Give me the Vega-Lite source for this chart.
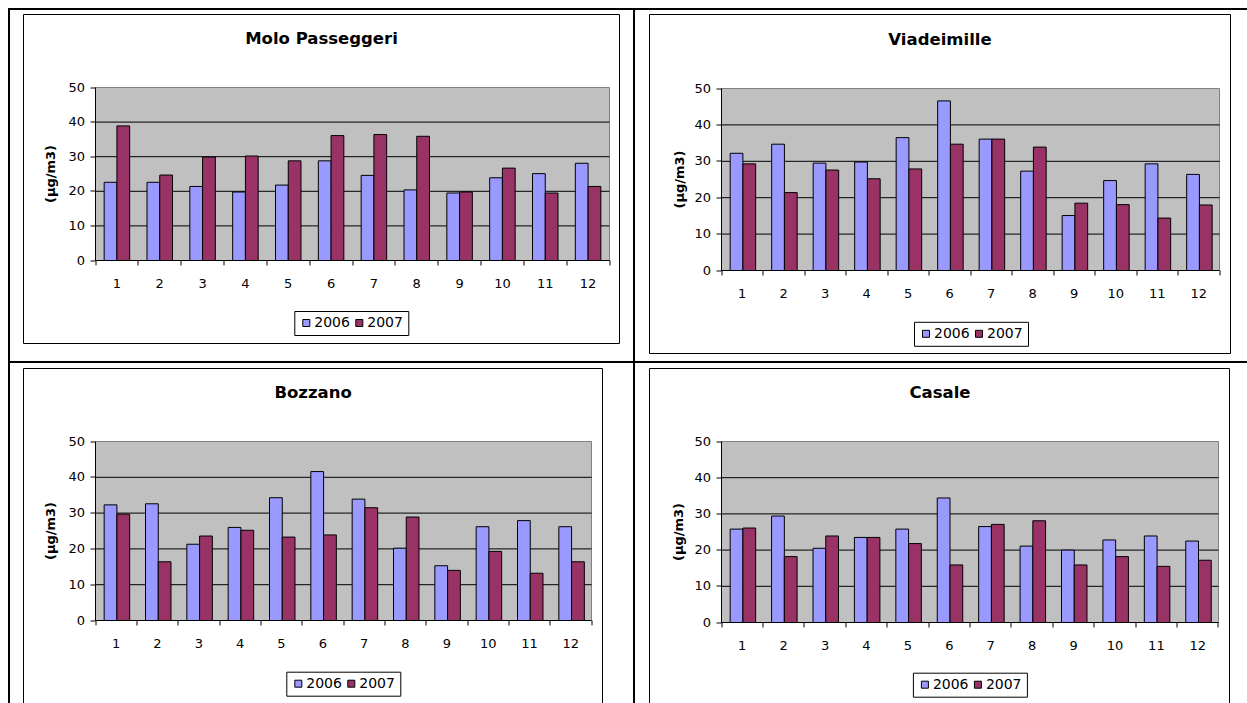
{
  "$schema": "https://vega.github.io/schema/vega-lite/v6.json",
  "background": "white",
  "padding": {"left": 8, "top": 8, "right": -2, "bottom": -2},
  "data": {"values": [
    {"station": "Molo Passeggeri", "month": 1, "year": 2006, "value": 22.6},
    {"station": "Molo Passeggeri", "month": 2, "year": 2006, "value": 22.6},
    {"station": "Molo Passeggeri", "month": 3, "year": 2006, "value": 21.4},
    {"station": "Molo Passeggeri", "month": 4, "year": 2006, "value": 19.8},
    {"station": "Molo Passeggeri", "month": 5, "year": 2006, "value": 21.8},
    {"station": "Molo Passeggeri", "month": 6, "year": 2006, "value": 28.8},
    {"station": "Molo Passeggeri", "month": 7, "year": 2006, "value": 24.6},
    {"station": "Molo Passeggeri", "month": 8, "year": 2006, "value": 20.4},
    {"station": "Molo Passeggeri", "month": 9, "year": 2006, "value": 19.5},
    {"station": "Molo Passeggeri", "month": 10, "year": 2006, "value": 23.9},
    {"station": "Molo Passeggeri", "month": 11, "year": 2006, "value": 25.1},
    {"station": "Molo Passeggeri", "month": 12, "year": 2006, "value": 28.1},
    {"station": "Molo Passeggeri", "month": 1, "year": 2007, "value": 38.9},
    {"station": "Molo Passeggeri", "month": 2, "year": 2007, "value": 24.7},
    {"station": "Molo Passeggeri", "month": 3, "year": 2007, "value": 29.9},
    {"station": "Molo Passeggeri", "month": 4, "year": 2007, "value": 30.2},
    {"station": "Molo Passeggeri", "month": 5, "year": 2007, "value": 28.8},
    {"station": "Molo Passeggeri", "month": 6, "year": 2007, "value": 36.1},
    {"station": "Molo Passeggeri", "month": 7, "year": 2007, "value": 36.4},
    {"station": "Molo Passeggeri", "month": 8, "year": 2007, "value": 35.9},
    {"station": "Molo Passeggeri", "month": 9, "year": 2007, "value": 19.8},
    {"station": "Molo Passeggeri", "month": 10, "year": 2007, "value": 26.7},
    {"station": "Molo Passeggeri", "month": 11, "year": 2007, "value": 19.5},
    {"station": "Molo Passeggeri", "month": 12, "year": 2007, "value": 21.4},
    {"station": "Viadeimille", "month": 1, "year": 2006, "value": 32.2},
    {"station": "Viadeimille", "month": 2, "year": 2006, "value": 34.7},
    {"station": "Viadeimille", "month": 3, "year": 2006, "value": 29.5},
    {"station": "Viadeimille", "month": 4, "year": 2006, "value": 29.8},
    {"station": "Viadeimille", "month": 5, "year": 2006, "value": 36.5},
    {"station": "Viadeimille", "month": 6, "year": 2006, "value": 46.6},
    {"station": "Viadeimille", "month": 7, "year": 2006, "value": 36.1},
    {"station": "Viadeimille", "month": 8, "year": 2006, "value": 27.3},
    {"station": "Viadeimille", "month": 9, "year": 2006, "value": 15.1},
    {"station": "Viadeimille", "month": 10, "year": 2006, "value": 24.7},
    {"station": "Viadeimille", "month": 11, "year": 2006, "value": 29.3},
    {"station": "Viadeimille", "month": 12, "year": 2006, "value": 26.4},
    {"station": "Viadeimille", "month": 1, "year": 2007, "value": 29.3},
    {"station": "Viadeimille", "month": 2, "year": 2007, "value": 21.4},
    {"station": "Viadeimille", "month": 3, "year": 2007, "value": 27.6},
    {"station": "Viadeimille", "month": 4, "year": 2007, "value": 25.2},
    {"station": "Viadeimille", "month": 5, "year": 2007, "value": 27.9},
    {"station": "Viadeimille", "month": 6, "year": 2007, "value": 34.7},
    {"station": "Viadeimille", "month": 7, "year": 2007, "value": 36.1},
    {"station": "Viadeimille", "month": 8, "year": 2007, "value": 33.9},
    {"station": "Viadeimille", "month": 9, "year": 2007, "value": 18.5},
    {"station": "Viadeimille", "month": 10, "year": 2007, "value": 18.1},
    {"station": "Viadeimille", "month": 11, "year": 2007, "value": 14.4},
    {"station": "Viadeimille", "month": 12, "year": 2007, "value": 18.0},
    {"station": "Bozzano", "month": 1, "year": 2006, "value": 32.3},
    {"station": "Bozzano", "month": 2, "year": 2006, "value": 32.6},
    {"station": "Bozzano", "month": 3, "year": 2006, "value": 21.3},
    {"station": "Bozzano", "month": 4, "year": 2006, "value": 26.0},
    {"station": "Bozzano", "month": 5, "year": 2006, "value": 34.3},
    {"station": "Bozzano", "month": 6, "year": 2006, "value": 41.6},
    {"station": "Bozzano", "month": 7, "year": 2006, "value": 33.9},
    {"station": "Bozzano", "month": 8, "year": 2006, "value": 20.2},
    {"station": "Bozzano", "month": 9, "year": 2006, "value": 15.3},
    {"station": "Bozzano", "month": 10, "year": 2006, "value": 26.2},
    {"station": "Bozzano", "month": 11, "year": 2006, "value": 27.9},
    {"station": "Bozzano", "month": 12, "year": 2006, "value": 26.2},
    {"station": "Bozzano", "month": 1, "year": 2007, "value": 29.7},
    {"station": "Bozzano", "month": 2, "year": 2007, "value": 16.4},
    {"station": "Bozzano", "month": 3, "year": 2007, "value": 23.6},
    {"station": "Bozzano", "month": 4, "year": 2007, "value": 25.2},
    {"station": "Bozzano", "month": 5, "year": 2007, "value": 23.3},
    {"station": "Bozzano", "month": 6, "year": 2007, "value": 23.9},
    {"station": "Bozzano", "month": 7, "year": 2007, "value": 31.5},
    {"station": "Bozzano", "month": 8, "year": 2007, "value": 28.9},
    {"station": "Bozzano", "month": 9, "year": 2007, "value": 14.0},
    {"station": "Bozzano", "month": 10, "year": 2007, "value": 19.3},
    {"station": "Bozzano", "month": 11, "year": 2007, "value": 13.2},
    {"station": "Bozzano", "month": 12, "year": 2007, "value": 16.4},
    {"station": "Casale", "month": 1, "year": 2006, "value": 25.8},
    {"station": "Casale", "month": 2, "year": 2006, "value": 29.4},
    {"station": "Casale", "month": 3, "year": 2006, "value": 20.5},
    {"station": "Casale", "month": 4, "year": 2006, "value": 23.5},
    {"station": "Casale", "month": 5, "year": 2006, "value": 25.8},
    {"station": "Casale", "month": 6, "year": 2006, "value": 34.4},
    {"station": "Casale", "month": 7, "year": 2006, "value": 26.5},
    {"station": "Casale", "month": 8, "year": 2006, "value": 21.1},
    {"station": "Casale", "month": 9, "year": 2006, "value": 20.0},
    {"station": "Casale", "month": 10, "year": 2006, "value": 22.8},
    {"station": "Casale", "month": 11, "year": 2006, "value": 23.9},
    {"station": "Casale", "month": 12, "year": 2006, "value": 22.5},
    {"station": "Casale", "month": 1, "year": 2007, "value": 26.1},
    {"station": "Casale", "month": 2, "year": 2007, "value": 18.2},
    {"station": "Casale", "month": 3, "year": 2007, "value": 23.9},
    {"station": "Casale", "month": 4, "year": 2007, "value": 23.5},
    {"station": "Casale", "month": 5, "year": 2007, "value": 21.8},
    {"station": "Casale", "month": 6, "year": 2007, "value": 15.9},
    {"station": "Casale", "month": 7, "year": 2007, "value": 27.1},
    {"station": "Casale", "month": 8, "year": 2007, "value": 28.1},
    {"station": "Casale", "month": 9, "year": 2007, "value": 15.9},
    {"station": "Casale", "month": 10, "year": 2007, "value": 18.2},
    {"station": "Casale", "month": 11, "year": 2007, "value": 15.5},
    {"station": "Casale", "month": 12, "year": 2007, "value": 17.2}
  ]},
  "columns": 2,
  "spacing": 0,
  "bounds": "flush",
  "resolve": {"scale": {"color": "independent"}},
  "concat": [
    {
      "width": 625, "height": 353,
      "title": {"text": "Molo Passeggeri", "offset": -38.2},
      "resolve": {"scale": {"x": "independent", "y": "independent"}},
      "layer": [
        {
          "data": {"values": [{}]},
          "mark": {"type": "rect", "fill": "white", "stroke": "black", "strokeWidth": 1},
          "encoding": {
            "x": {"datum": 0, "type": "quantitative", "scale": {"domain": [0, 1], "range": [14.5, 610.5]}, "axis": null},
            "x2": {"datum": 1},
            "y": {"datum": 0, "type": "quantitative", "scale": {"domain": [0, 1], "range": [334.5, 5.5]}, "axis": null},
            "y2": {"datum": 1}
          }
        },
        {
          "data": {"values": [{}]},
          "mark": {"type": "rect", "fill": "#c0c0c0", "stroke": "#808080", "strokeWidth": 1},
          "encoding": {
            "x": {"datum": 0, "type": "quantitative", "scale": {"domain": [0, 1], "range": [86.5, 600.5]}, "axis": null},
            "x2": {"datum": 1},
            "y": {"datum": 0, "type": "quantitative", "scale": {"domain": [0, 50], "range": [251.5, 78.5]}, "axis": null},
            "y2": {"datum": 50}
          }
        },
        {
          "data": {"values": [{"g": 10}, {"g": 20}, {"g": 30}, {"g": 40}]},
          "mark": {"type": "rule", "stroke": "black", "strokeWidth": 1},
          "encoding": {
            "x": {"datum": 0, "type": "quantitative", "scale": {"domain": [0, 1], "range": [86.5, 600.5]}, "axis": null},
            "x2": {"datum": 1},
            "y": {"field": "g", "type": "quantitative", "scale": {"domain": [0, 50], "range": [251.5, 78.5]}, "axis": null}
          }
        },
        {
          "transform": [{"filter": "datum.station === 'Molo Passeggeri'"}],
          "mark": {"type": "bar", "stroke": "black", "strokeWidth": 1},
          "encoding": {
            "x": {"field": "month", "type": "ordinal", "scale": {"range": [86.5, 600.5], "paddingInner": 0, "paddingOuter": 0},
              "axis": {"orient": "bottom", "offset": -101.5, "translate": 0, "title": null, "labelAngle": 0, "tickBand": "extent", "tickSize": 5, "labelPadding": 12, "zindex": 1}},
            "xOffset": {"field": "year", "type": "nominal", "scale": {"paddingInner": 0, "paddingOuter": 0.68}},
            "y": {"field": "value", "type": "quantitative", "scale": {"domain": [0, 50], "range": [251.5, 78.5], "nice": false},
              "axis": {"orient": "left", "offset": -86.5, "translate": 0, "values": [0, 10, 20, 30, 40, 50], "tickSize": 5, "labelPadding": 5.5, "zindex": 1, "title": "(µg/m3)", "titleX": -37.2}},
            "color": {"field": "year", "type": "nominal", "scale": {"domain": [2006, 2007], "range": ["#9999ff", "#993366"]},
              "legend": {"orient": "none", "legendX": 285.3, "legendY": 302}}
          }
        }
      ]
    },
    {
      "width": 614, "height": 353,
      "title": {"text": "Viadeimille", "offset": -39.5, "dx": -1},
      "resolve": {"scale": {"x": "independent", "y": "independent"}},
      "layer": [
        {
          "data": {"values": [{}]},
          "mark": {"type": "rect", "fill": "white", "stroke": "black", "strokeWidth": 1},
          "encoding": {
            "x": {"datum": 0, "type": "quantitative", "scale": {"domain": [0, 1], "range": [15.5, 596.5]}, "axis": null},
            "x2": {"datum": 1},
            "y": {"datum": 0, "type": "quantitative", "scale": {"domain": [0, 1], "range": [344.5, 5.5]}, "axis": null},
            "y2": {"datum": 1}
          }
        },
        {
          "data": {"values": [{}]},
          "mark": {"type": "rect", "fill": "#c0c0c0", "stroke": "#808080", "strokeWidth": 1},
          "encoding": {
            "x": {"datum": 0, "type": "quantitative", "scale": {"domain": [0, 1], "range": [87.5, 585.5]}, "axis": null},
            "x2": {"datum": 1},
            "y": {"datum": 0, "type": "quantitative", "scale": {"domain": [0, 50], "range": [261.5, 79.5]}, "axis": null},
            "y2": {"datum": 50}
          }
        },
        {
          "data": {"values": [{"g": 10}, {"g": 20}, {"g": 30}, {"g": 40}]},
          "mark": {"type": "rule", "stroke": "black", "strokeWidth": 1},
          "encoding": {
            "x": {"datum": 0, "type": "quantitative", "scale": {"domain": [0, 1], "range": [87.5, 585.5]}, "axis": null},
            "x2": {"datum": 1},
            "y": {"field": "g", "type": "quantitative", "scale": {"domain": [0, 50], "range": [261.5, 79.5]}, "axis": null}
          }
        },
        {
          "transform": [{"filter": "datum.station === 'Viadeimille'"}],
          "mark": {"type": "bar", "stroke": "black", "strokeWidth": 1},
          "encoding": {
            "x": {"field": "month", "type": "ordinal", "scale": {"range": [87.5, 585.5], "paddingInner": 0, "paddingOuter": 0},
              "axis": {"orient": "bottom", "offset": -91.5, "translate": 0, "title": null, "labelAngle": 0, "tickBand": "extent", "tickSize": 5, "labelPadding": 12.5, "zindex": 1}},
            "xOffset": {"field": "year", "type": "nominal", "scale": {"paddingInner": 0, "paddingOuter": 0.68}},
            "y": {"field": "value", "type": "quantitative", "scale": {"domain": [0, 50], "range": [261.5, 79.5], "nice": false},
              "axis": {"orient": "left", "offset": -87.5, "translate": 0, "values": [0, 10, 20, 30, 40, 50], "tickSize": 5, "labelPadding": 5.5, "zindex": 1, "title": "(µg/m3)", "titleX": -35}},
            "color": {"field": "year", "type": "nominal", "scale": {"domain": [2006, 2007], "range": ["#9999ff", "#993366"]},
              "legend": {"orient": "none", "legendX": 280, "legendY": 312.8}}
          }
        }
      ]
    },
    {
      "width": 625, "height": 342,
      "title": {"text": "Bozzano", "offset": -39.9, "dx": -8.4},
      "resolve": {"scale": {"x": "independent", "y": "independent"}},
      "layer": [
        {
          "data": {"values": [{}]},
          "mark": {"type": "rect", "fill": "white", "stroke": "black", "strokeWidth": 1},
          "encoding": {
            "x": {"datum": 0, "type": "quantitative", "scale": {"domain": [0, 1], "range": [14.5, 593.5]}, "axis": null},
            "x2": {"datum": 1},
            "y": {"datum": 0, "type": "quantitative", "scale": {"domain": [0, 1], "range": [342, 6.5]}, "axis": null},
            "y2": {"datum": 1}
          }
        },
        {
          "data": {"values": [{}]},
          "mark": {"type": "rect", "fill": "#c0c0c0", "stroke": "#808080", "strokeWidth": 1},
          "encoding": {
            "x": {"datum": 0, "type": "quantitative", "scale": {"domain": [0, 1], "range": [86.5, 582.5]}, "axis": null},
            "x2": {"datum": 1},
            "y": {"datum": 0, "type": "quantitative", "scale": {"domain": [0, 50], "range": [258.5, 79.5]}, "axis": null},
            "y2": {"datum": 50}
          }
        },
        {
          "data": {"values": [{"g": 10}, {"g": 20}, {"g": 30}, {"g": 40}]},
          "mark": {"type": "rule", "stroke": "black", "strokeWidth": 1},
          "encoding": {
            "x": {"datum": 0, "type": "quantitative", "scale": {"domain": [0, 1], "range": [86.5, 582.5]}, "axis": null},
            "x2": {"datum": 1},
            "y": {"field": "g", "type": "quantitative", "scale": {"domain": [0, 50], "range": [258.5, 79.5]}, "axis": null}
          }
        },
        {
          "transform": [{"filter": "datum.station === 'Bozzano'"}],
          "mark": {"type": "bar", "stroke": "black", "strokeWidth": 1},
          "encoding": {
            "x": {"field": "month", "type": "ordinal", "scale": {"range": [86.5, 582.5], "paddingInner": 0, "paddingOuter": 0},
              "axis": {"orient": "bottom", "offset": -83.5, "translate": 0, "title": null, "labelAngle": 0, "tickBand": "extent", "tickSize": 5, "labelPadding": 12.5, "zindex": 1}},
            "xOffset": {"field": "year", "type": "nominal", "scale": {"paddingInner": 0, "paddingOuter": 0.68}},
            "y": {"field": "value", "type": "quantitative", "scale": {"domain": [0, 50], "range": [258.5, 79.5], "nice": false},
              "axis": {"orient": "left", "offset": -86.5, "translate": 0, "values": [0, 10, 20, 30, 40, 50], "tickSize": 5, "labelPadding": 5.5, "zindex": 1, "title": "(µg/m3)", "titleX": -38}},
            "color": {"field": "year", "type": "nominal", "scale": {"domain": [2006, 2007], "range": ["#9999ff", "#993366"]},
              "legend": {"orient": "none", "legendX": 277.3, "legendY": 309.7}}
          }
        }
      ]
    },
    {
      "width": 614, "height": 342,
      "title": {"text": "Casale", "offset": -39.9, "dx": -1},
      "resolve": {"scale": {"x": "independent", "y": "independent"}},
      "layer": [
        {
          "data": {"values": [{}]},
          "mark": {"type": "rect", "fill": "white", "stroke": "black", "strokeWidth": 1},
          "encoding": {
            "x": {"datum": 0, "type": "quantitative", "scale": {"domain": [0, 1], "range": [15.5, 595.5]}, "axis": null},
            "x2": {"datum": 1},
            "y": {"datum": 0, "type": "quantitative", "scale": {"domain": [0, 1], "range": [342, 6.5]}, "axis": null},
            "y2": {"datum": 1}
          }
        },
        {
          "data": {"values": [{}]},
          "mark": {"type": "rect", "fill": "#c0c0c0", "stroke": "#808080", "strokeWidth": 1},
          "encoding": {
            "x": {"datum": 0, "type": "quantitative", "scale": {"domain": [0, 1], "range": [87.5, 584.5]}, "axis": null},
            "x2": {"datum": 1},
            "y": {"datum": 0, "type": "quantitative", "scale": {"domain": [0, 50], "range": [260.5, 79.5]}, "axis": null},
            "y2": {"datum": 50}
          }
        },
        {
          "data": {"values": [{"g": 10}, {"g": 20}, {"g": 30}, {"g": 40}]},
          "mark": {"type": "rule", "stroke": "black", "strokeWidth": 1},
          "encoding": {
            "x": {"datum": 0, "type": "quantitative", "scale": {"domain": [0, 1], "range": [87.5, 584.5]}, "axis": null},
            "x2": {"datum": 1},
            "y": {"field": "g", "type": "quantitative", "scale": {"domain": [0, 50], "range": [260.5, 79.5]}, "axis": null}
          }
        },
        {
          "transform": [{"filter": "datum.station === 'Casale'"}],
          "mark": {"type": "bar", "stroke": "black", "strokeWidth": 1},
          "encoding": {
            "x": {"field": "month", "type": "ordinal", "scale": {"range": [87.5, 584.5], "paddingInner": 0, "paddingOuter": 0},
              "axis": {"orient": "bottom", "offset": -81.5, "translate": 0, "title": null, "labelAngle": 0, "tickBand": "extent", "tickSize": 5, "labelPadding": 12, "zindex": 1}},
            "xOffset": {"field": "year", "type": "nominal", "scale": {"paddingInner": 0, "paddingOuter": 0.68}},
            "y": {"field": "value", "type": "quantitative", "scale": {"domain": [0, 50], "range": [260.5, 79.5], "nice": false},
              "axis": {"orient": "left", "offset": -87.5, "translate": 0, "values": [0, 10, 20, 30, 40, 50], "tickSize": 5, "labelPadding": 5.5, "zindex": 1, "title": "(µg/m3)", "titleX": -36}},
            "color": {"field": "year", "type": "nominal", "scale": {"domain": [2006, 2007], "range": ["#9999ff", "#993366"]},
              "legend": {"orient": "none", "legendX": 278.9, "legendY": 310.7}}
          }
        }
      ]
    }
  ],
  "config": {
    "font": "DejaVu Sans",
    "view": {"stroke": "black", "strokeWidth": 2, "fill": "white"},
    "concat": {"spacing": 0},
    "axis": {
      "grid": false,
      "domainColor": "black",
      "domainWidth": 1,
      "tickColor": "black",
      "tickWidth": 1,
      "labelColor": "black",
      "labelFont": "DejaVu Sans",
      "labelFontSize": 13,
      "titleColor": "black",
      "titleFont": "DejaVu Sans",
      "titleFontSize": 13,
      "titleFontWeight": "bold"
    },
    "title": {"font": "DejaVu Sans", "fontSize": 16.5, "fontWeight": "bold", "color": "black", "anchor": "middle"},
    "legend": {
      "title": null,
      "direction": "horizontal",
      "strokeColor": "black",
      "fillColor": "white",
      "padding": 5,
      "symbolType": "square",
      "symbolSize": 49,
      "symbolStrokeColor": "black",
      "symbolStrokeWidth": 1,
      "symbolOpacity": 1,
      "labelFont": "DejaVu Sans",
      "labelFontSize": 14,
      "labelColor": "black",
      "labelOffset": 1,
      "columnPadding": 2
    }
  }
}
